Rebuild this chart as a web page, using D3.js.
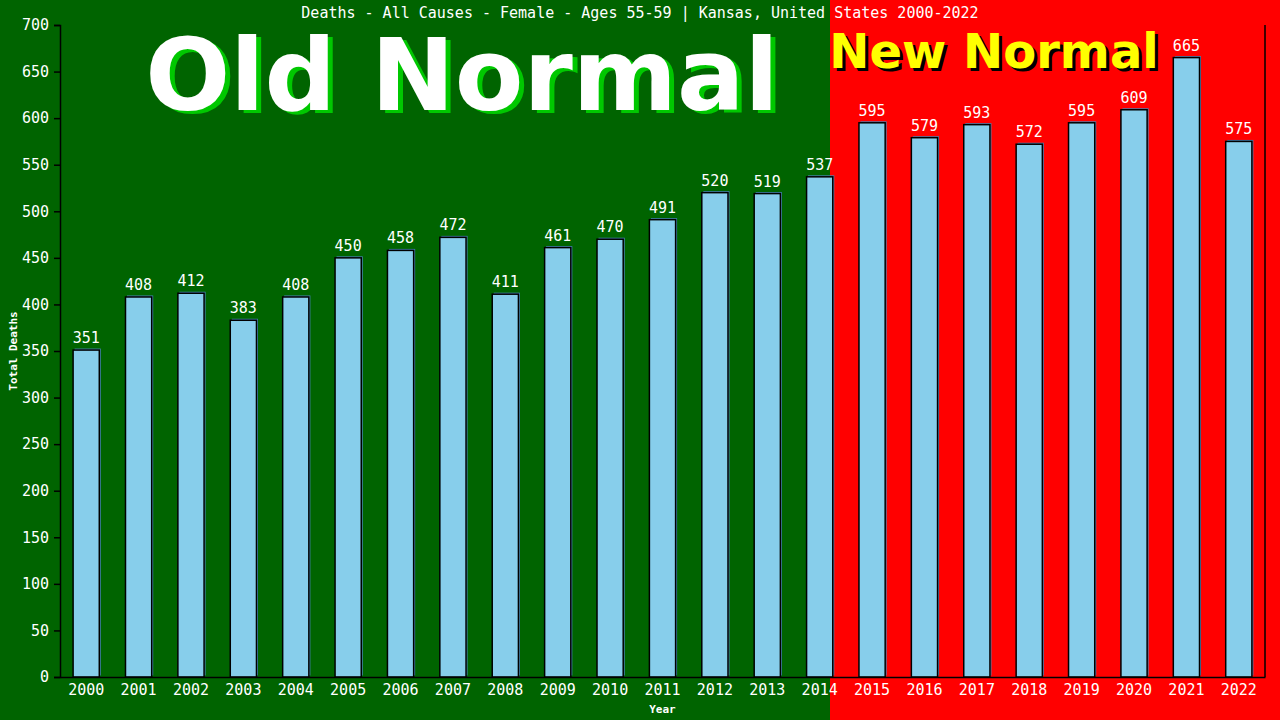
<!DOCTYPE html>
<html>
<head>
<meta charset="utf-8">
<script src="https://cdn.jsdelivr.net/npm/d3@7"></script>
<style>
  body { margin: 0; background: #000; }
  text { font-family: "DejaVu Sans Mono", "Liberation Mono", monospace; }
</style>
</head>
<body>
<script>
// Chart data
//= ================================
var years = ['2000','2001','2002','2003','2004','2005','2006','2007','2008','2009','2010','2011',
  '2012','2013','2014','2015','2016','2017','2018','2019','2020','2021','2022'];
var deaths = [351, 408, 412, 383, 408, 450, 458, 472, 411, 461, 470, 491,
  520, 519, 537, 595, 579, 593, 572, 595, 609, 665, 575];
var yTicks = [0, 50, 100, 150, 200, 250, 300, 350, 400, 450, 500, 550, 600, 650, 700];

let svgWidth = 1280;
let svgHeight = 720;
let margin = { top: 25, right: 15, bottom: 43, left: 60 };
let width = svgWidth - margin.left - margin.right;
let height = svgHeight - margin.top - margin.bottom;
let splitX = 830;

let svg = d3.select("body").append("svg")
  .attr("width", svgWidth)
  .attr("height", svgHeight);

// backgrounds
svg.append("rect").attr("x", 0).attr("y", 0)
  .attr("width", splitX).attr("height", svgHeight).attr("fill", "#006400");
svg.append("rect").attr("x", splitX).attr("y", 0)
  .attr("width", svgWidth - splitX).attr("height", svgHeight).attr("fill", "#ff0000");

// big banner texts (shadow + text)
svg.append("text").attr("x", 467).attr("y", 113)
  .attr("text-anchor", "middle")
  .attr("font-weight", "bold").attr("font-size", "100px").attr("fill", "#00c800")
  .style("font-family", "'DejaVu Sans', sans-serif")
  .text("Old Normal");
svg.append("text").attr("x", 462).attr("y", 110)
  .attr("text-anchor", "middle")
  .attr("font-weight", "bold").attr("font-size", "100px").attr("fill", "#ffffff")
  .style("font-family", "'DejaVu Sans', sans-serif")
  .text("Old Normal");

svg.append("text").attr("x", 997).attr("y", 71)
  .attr("text-anchor", "middle")
  .attr("font-weight", "bold").attr("font-size", "48px").attr("fill", "#000000")
  .style("font-family", "'DejaVu Sans', sans-serif")
  .text("New Normal");
svg.append("text").attr("x", 994).attr("y", 68)
  .attr("text-anchor", "middle")
  .attr("font-weight", "bold").attr("font-size", "48px").attr("fill", "#ffff00")
  .style("font-family", "'DejaVu Sans', sans-serif")
  .text("New Normal");

let chartGroup = svg.append("g")
  .attr("transform", `translate(${margin.left}, ${margin.top})`);

// Create Scales
// ============================================
let xScale = d3.scaleBand()
  .domain(years)
  .range([0, width])
  .paddingInner(0.5)
  .paddingOuter(0.25);

let yScale = d3.scaleLinear()
  .domain([0, 700])
  .range([height, 0]);

// bars (shadow first, then the bar)
chartGroup.append("g").selectAll("rect")
  .data(deaths)
  .enter()
  .append("rect")
  .attr("x", (d, i) => xScale(years[i]) + 1.5)
  .attr("y", d => yScale(d) - 1.5)
  .attr("width", xScale.bandwidth())
  .attr("height", d => height - yScale(d))
  .attr("fill", "#4682b4");

chartGroup.append("g").selectAll("rect")
  .data(deaths)
  .enter()
  .append("rect")
  .attr("x", (d, i) => xScale(years[i]))
  .attr("y", d => yScale(d))
  .attr("width", xScale.bandwidth())
  .attr("height", d => height - yScale(d))
  .attr("fill", "#87ceeb")
  .attr("stroke", "#000")
  .attr("stroke-width", 1.5);

// value labels
chartGroup.append("g").selectAll("text")
  .data(deaths)
  .enter()
  .append("text")
  .attr("x", (d, i) => xScale(years[i]) + xScale.bandwidth() / 2)
  .attr("y", d => yScale(d) - 7)
  .attr("text-anchor", "middle")
  .attr("font-size", "15px")
  .attr("fill", "#fff")
  .text(d => d);

// Axes
// =============================================
let bottomAxis = d3.axisBottom(xScale).tickSize(0).tickPadding(7);
let leftAxis = d3.axisLeft(yScale).tickValues(yTicks).tickSize(6).tickPadding(5);

let xg = chartGroup.append("g")
  .attr("transform", `translate(0, ${height})`)
  .call(bottomAxis);
xg.select(".domain").attr("stroke", "#000").attr("stroke-width", 1.5);
xg.selectAll("text").attr("fill", "#fff").attr("font-size", "15px")
  .style("font-family", "'DejaVu Sans Mono', monospace");

let yg = chartGroup.append("g").call(leftAxis);
yg.select(".domain").attr("stroke", "#000").attr("stroke-width", 1.5);
yg.selectAll(".tick line").attr("stroke", "#000").attr("stroke-width", 1.5);
yg.selectAll("text").attr("fill", "#fff").attr("font-size", "15px")
  .style("font-family", "'DejaVu Sans Mono', monospace");

// right border line
chartGroup.append("line")
  .attr("x1", width).attr("x2", width)
  .attr("y1", 0).attr("y2", height)
  .attr("stroke", "#000").attr("stroke-width", 1.5);

// titles
svg.append("text")
  .attr("x", 640).attr("y", 18)
  .attr("text-anchor", "middle")
  .attr("font-size", "15px")
  .attr("fill", "#fff")
  .text("Deaths - All Causes - Female - Ages 55-59 | Kansas, United States 2000-2022");

svg.append("text")
  .attr("x", margin.left + width / 2).attr("y", 713)
  .attr("text-anchor", "middle")
  .attr("font-size", "11px")
  .attr("font-weight", "bold")
  .attr("fill", "#fff")
  .text("Year");

svg.append("text")
  .attr("transform", "translate(17, 351) rotate(-90)")
  .attr("text-anchor", "middle")
  .attr("font-size", "11px")
  .attr("font-weight", "bold")
  .attr("fill", "#fff")
  .text("Total Deaths");
</script>
</body>
</html>
